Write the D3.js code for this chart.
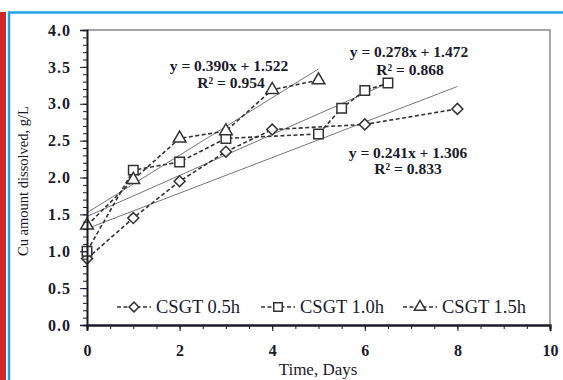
<!DOCTYPE html>
<html><head><meta charset="utf-8">
<script src="https://cdn.jsdelivr.net/npm/d3@7"></script>
<style>body{margin:0;background:#fff;}svg{display:block;}</style>
</head><body>
<script>
const series05 = {name:"CSGT 0.5h", x:[0,1,2,3,4,6,8], y:[0.90,1.45,1.95,2.35,2.65,2.72,2.93]};
const series10 = {name:"CSGT 1.0h", x:[0,1,2,3,5,5.5,6,6.5], y:[1.00,2.10,2.21,2.53,2.59,2.94,3.18,3.28]};
const series15 = {name:"CSGT 1.5h", x:[0,1,2,3,4,5], y:[1.35,1.97,2.53,2.63,3.19,3.32]};
const trends = [
  {slope:0.390, intercept:1.522, x0:0, x1:5, eq:"y = 0.390x + 1.522", r2:"R² = 0.954"},
  {slope:0.278, intercept:1.472, x0:0, x1:6.5, eq:"y = 0.278x + 1.472", r2:"R² = 0.868"},
  {slope:0.241, intercept:1.306, x0:0, x1:8, eq:"y = 0.241x + 1.306", r2:"R² = 0.833"}
];
const xTicks = [0,2,4,6,8,10];
const yTicks = [0,0.5,1,1.5,2,2.5,3,3.5,4];

const W=563,H=380;
const svg=d3.select("body").append("svg").attr("width",W).attr("height",H);
// decorative frame
svg.append("rect").attr("x",0).attr("y",12).attr("width",6).attr("height",H-12).attr("fill","#d3262b");
svg.append("path").attr("d",`M9,${H} V12.5 H${W}`).attr("fill","none").attr("stroke","#1ea4e6").attr("stroke-width",2.5);

const x=d3.scaleLinear().domain([0,10]).range([87,550]);
const y=d3.scaleLinear().domain([0,4]).range([325,30]);
const ink="#1a1a2a";
const serif="'Liberation Serif','Times New Roman',serif";

// plot border (top/right gray)
svg.append("path").attr("d",`M${x(0)},${y(4)} H${x(10)} V${y(0)}`).attr("fill","none").attr("stroke","#888").attr("stroke-width",1.5);

// trendlines
trends.forEach(t=>{
  svg.append("line").attr("x1",x(t.x0)).attr("y1",y(t.slope*t.x0+t.intercept))
    .attr("x2",x(t.x1)).attr("y2",y(t.slope*t.x1+t.intercept))
    .attr("stroke","#777").attr("stroke-width",1);
});

const sym={ "CSGT 0.5h":d3.symbolSquare, "CSGT 1.0h":d3.symbolSquare, "CSGT 1.5h":d3.symbolTriangle };
const rot={ "CSGT 0.5h":45, "CSGT 1.0h":0, "CSGT 1.5h":0 };
const symSize={ "CSGT 0.5h":60, "CSGT 1.0h":90, "CSGT 1.5h":70 };
[series05,series10,series15].forEach(s=>{
  const pts=s.x.map((v,i)=>[v,s.y[i]]);
  svg.append("path").datum(pts).attr("d",d3.line().x(d=>x(d[0])).y(d=>y(d[1])))
    .attr("fill","none").attr("stroke","#333").attr("stroke-width",1.6).attr("stroke-dasharray","4,2.5");
  svg.selectAll(null).data(pts).enter().append("path")
    .attr("transform",d=>`translate(${x(d[0])},${y(d[1])}) rotate(${rot[s.name]})`)
    .attr("d",d3.symbol().type(sym[s.name]).size(symSize[s.name]))
    .attr("fill","#fff").attr("stroke","#333").attr("stroke-width",1.5);
});

// axes
const yAxis=svg.append("g").attr("transform",`translate(${x(0)},0)`);
yAxis.call(d3.axisLeft(y).tickValues(d3.range(0,4.001,0.1)).tickSize(4).tickFormat(""));
yAxis.append("g").call(d3.axisLeft(y).tickValues(yTicks).tickSize(7).tickFormat(d3.format(".1f")));
yAxis.selectAll("path.domain").attr("stroke",ink).attr("stroke-width",1.6);
yAxis.selectAll("line").attr("stroke",ink);
yAxis.selectAll("text").attr("font-family",serif).attr("font-weight","bold").attr("font-size",16)
  .attr("letter-spacing",1).attr("fill",ink).attr("dx",-6);

const xAxis=svg.append("g").attr("transform",`translate(0,${y(0)})`);
xAxis.call(d3.axisBottom(x).tickValues(d3.range(0,10.001,0.5)).tickSize(4).tickFormat(""));
xAxis.append("g").call(d3.axisBottom(x).tickValues(xTicks).tickSize(6).tickFormat(d3.format("d")));
xAxis.selectAll("path.domain").attr("stroke",ink).attr("stroke-width",2);
xAxis.selectAll("line").attr("stroke",ink);
xAxis.selectAll("text").attr("font-family",serif).attr("font-weight","bold").attr("font-size",16).attr("fill",ink).attr("y",20).attr("dy","0.71em");

// axis titles
svg.append("text").attr("transform",`translate(28,181) rotate(-90)`)
  .attr("text-anchor","middle").attr("font-family",serif).attr("font-size",14.5).attr("fill",ink)
  .text("Cu amount dissolved, g/L");
svg.append("text").attr("x",318).attr("y",375).attr("text-anchor","middle")
  .attr("font-family",serif).attr("font-size",17).attr("fill",ink).text("Time, Days");

// equation labels
const eqPos=[[229,71,231,88],[409,57,410,75],[408,158,408,174]];
trends.forEach((t,i)=>{
  const p=eqPos[i];
  svg.append("text").attr("x",p[0]).attr("y",p[1]).attr("text-anchor","middle").attr("font-family",serif)
    .attr("font-weight","bold").attr("font-size",15.5).attr("fill",ink).text(t.eq);
  svg.append("text").attr("x",p[2]).attr("y",p[3]).attr("text-anchor","middle").attr("font-family",serif)
    .attr("font-weight","bold").attr("font-size",15.5).attr("fill",ink).text(t.r2);
});

// legend
const legX=[117,261,403];
[series05,series10,series15].forEach((s,i)=>{
  const g=svg.append("g").attr("transform",`translate(${legX[i]},307)`);
  g.append("line").attr("x1",0).attr("x2",34).attr("y1",0).attr("y2",0)
    .attr("stroke","#333").attr("stroke-width",1.6).attr("stroke-dasharray","4,2.5");
  g.append("path").attr("transform",`translate(17,0) rotate(${rot[s.name]})`).attr("d",d3.symbol().type(sym[s.name]).size(symSize[s.name]*0.8))
    .attr("fill","#fff").attr("stroke","#333").attr("stroke-width",1.5);
  g.append("text").attr("x",39).attr("y",6).attr("font-family",serif).attr("font-size",18.5).attr("fill",ink).text(s.name);
});
</script>
</body></html>
